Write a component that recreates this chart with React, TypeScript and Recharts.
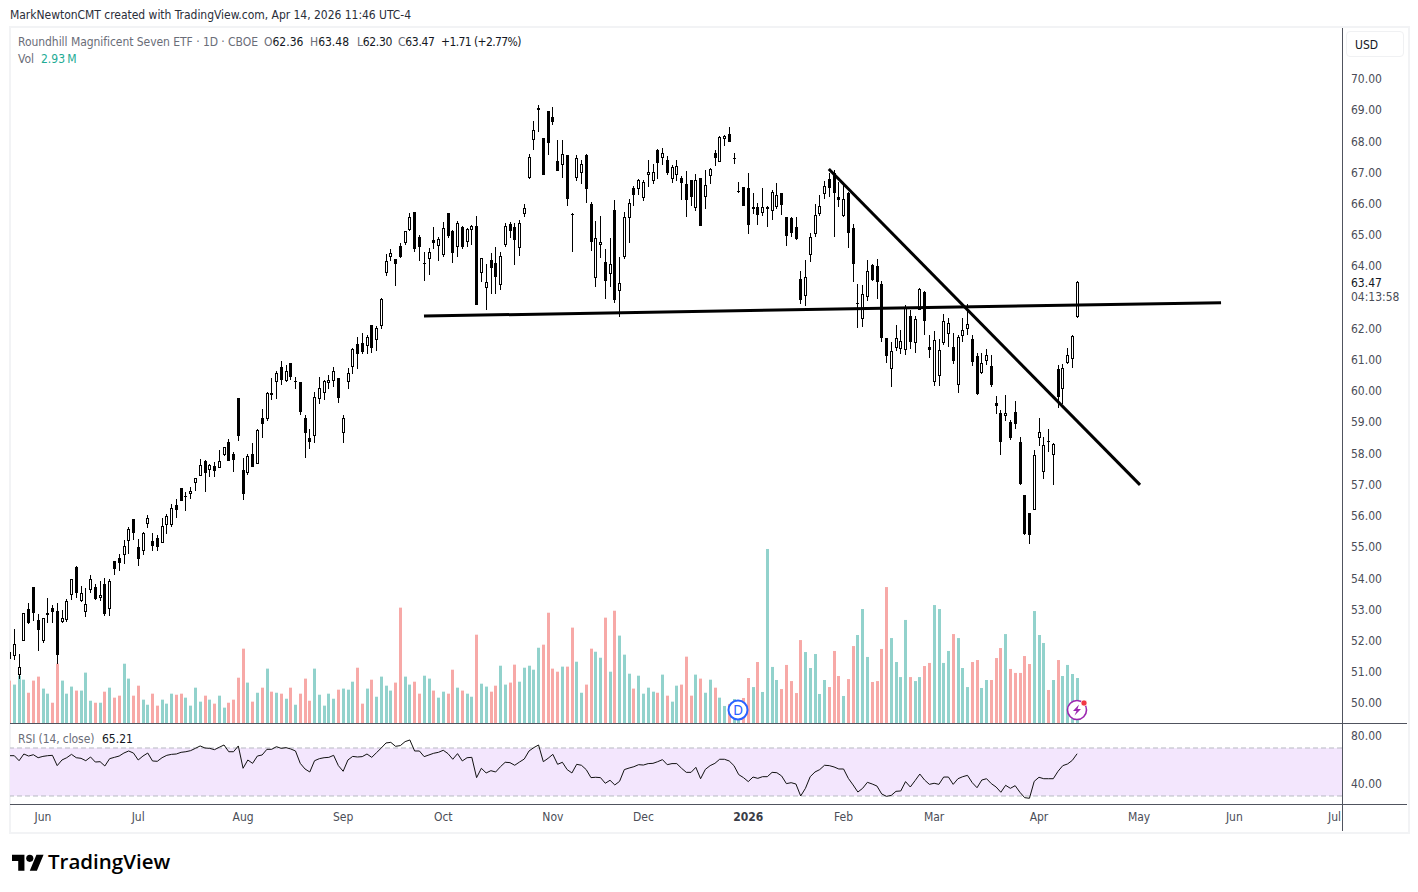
import React from "react";
import { ComposedChart, Bar, Line, XAxis, YAxis, ReferenceLine, ReferenceArea } from "recharts";

const FONT = "'DejaVu Sans Condensed', 'DejaVu Sans', sans-serif";

const opens = [
51.60,51.45,50.84,51.97,52.98,53.69,52.63,51.97,52.77,53.01,
52.92,52.54,52.63,53.44,54.33,53.22,52.86,53.60,53.69,53.34,
53.78,52.96,54.52,54.61,54.71,55.17,55.86,54.97,54.84,55.70,
55.16,55.26,55.10,55.67,55.67,56.31,56.86,56.60,56.67,57.02,
57.24,57.72,57.44,57.56,57.51,57.92,58.33,57.95,59.74,57.44,
57.34,57.95,57.63,59.10,59.07,59.88,60.26,60.74,60.29,60.87,
60.29,60.26,59.10,58.46,58.53,59.71,59.90,60.20,60.29,60.38,
58.62,60.26,60.74,61.47,61.51,61.41,62.08,61.60,62.05,63.75,
64.26,64.20,64.62,64.71,65.13,65.71,64.90,64.07,64.20,64.81,
64.62,64.33,65.67,65.10,64.58,65.22,64.74,65.13,65.26,63.76,
63.28,64.17,64.07,63.38,64.65,65.32,65.22,64.55,65.64,66.79,
68.01,69.04,68.08,68.94,68.75,67.34,67.21,67.53,65.64,66.79,
66.95,67.53,65.96,63.59,64.65,64.10,63.72,65.77,63.17,64.26,
65.51,66.47,66.44,66.15,66.89,66.70,67.69,67.44,67.37,66.76,
66.89,66.79,66.60,66.73,65.83,66.79,66.18,66.86,67.60,67.31,
68.04,68.20,67.44,66.37,66.50,66.47,65.85,65.87,65.67,65.84,
65.74,65.87,66.31,65.54,65.51,65.22,63.56,63.01,64.33,65.00,
65.64,66.28,66.76,66.95,66.19,65.58,66.31,65.19,62.79,62.27,
62.98,64.00,63.97,63.40,61.66,60.67,61.34,61.31,61.28,62.37,
61.50,62.56,63.14,61.38,60.25,60.45,61.50,61.79,61.38,60.16,
61.73,61.95,61.63,61.09,60.54,60.93,60.77,59.58,59.26,59.17,
58.97,59.29,58.33,56.63,56.06,56.15,58.46,57.37,58.37,57.92,
60.67,60.03,60.86,60.99,62.36,
];

const closes = [
51.39,51.85,51.11,52.87,52.53,52.86,52.31,52.71,52.84,52.88,
51.51,52.68,53.24,53.96,53.49,53.48,53.13,53.96,53.30,53.43,
52.82,53.87,54.26,54.45,54.99,55.54,55.42,54.58,55.42,55.90,
55.00,54.97,55.64,55.96,56.22,56.15,56.44,56.57,56.76,57.17,
57.60,57.34,57.60,57.40,57.72,58.17,57.72,57.76,58.53,56.67,
57.88,57.53,58.72,58.91,59.90,59.90,60.55,60.32,60.60,60.42,
60.26,59.30,58.62,58.33,59.78,60.06,60.29,60.31,60.61,59.74,
59.10,60.55,61.31,61.15,61.22,61.70,61.35,61.99,62.92,64.13,
64.39,64.04,64.26,65.10,65.55,64.52,64.58,64.05,64.42,64.71,
64.84,65.19,64.94,64.39,65.35,64.58,65.16,65.26,62.72,64.23,
63.46,63.91,63.62,64.30,65.26,65.10,64.81,65.35,65.83,67.47,
68.33,68.97,66.89,67.92,68.59,67.02,67.56,66.12,65.63,67.44,
67.24,66.44,64.74,64.87,64.74,63.49,64.04,62.88,63.43,65.54,
65.99,66.25,66.73,66.66,66.99,66.99,67.28,67.60,66.95,67.15,
67.18,66.64,66.09,66.18,66.73,65.26,66.57,67.08,67.44,68.11,
68.14,67.95,67.41,66.35,65.90,65.29,65.80,65.61,65.87,65.87,
66.34,66.25,65.93,64.93,65.03,64.84,62.88,63.62,64.90,65.61,
65.90,66.54,66.47,66.31,66.09,66.12,65.03,64.04,62.77,63.08,
63.81,63.52,63.46,61.66,61.09,61.25,61.66,61.57,62.63,61.54,
62.27,63.24,62.21,61.28,61.60,61.28,62.21,62.15,60.93,61.70,
61.92,62.11,60.90,59.87,60.86,61.12,60.16,59.49,58.33,59.26,
58.46,58.91,56.99,55.38,55.35,57.92,58.65,58.24,58.35,58.27,
59.78,60.70,61.12,61.73,63.47,
];

const highs = [
52.57,52.34,51.54,52.87,53.17,53.69,52.82,52.71,53.32,53.11,
53.17,52.95,53.30,53.96,54.36,53.72,53.64,54.06,53.80,53.88,
53.97,53.96,54.52,54.74,55.19,55.61,55.86,55.22,55.45,55.99,
55.42,55.35,55.90,56.03,56.35,56.51,56.86,56.73,56.89,57.17,
57.79,57.76,57.63,57.69,58.08,58.17,58.43,58.01,59.74,57.82,
57.95,58.30,58.75,59.39,59.94,60.38,60.61,60.93,60.80,60.87,
60.42,60.26,59.20,58.75,59.94,60.42,60.32,60.48,60.74,60.38,
59.20,60.71,61.35,61.70,61.83,61.76,62.08,62.05,62.95,64.36,
64.52,64.20,64.71,65.10,65.67,65.71,64.97,64.42,64.55,65.22,
64.90,65.38,65.67,65.13,65.42,65.26,65.19,65.29,65.58,64.23,
64.04,64.39,64.58,64.42,65.35,65.38,65.35,65.45,65.96,67.56,
68.62,69.13,68.08,68.94,69.07,68.01,68.01,67.53,65.67,67.53,
67.37,67.56,66.02,65.42,65.58,64.52,64.87,66.09,64.26,65.71,
66.12,66.54,66.76,66.73,67.37,67.24,67.72,67.76,67.50,67.21,
67.37,66.86,67.02,66.73,66.92,66.79,67.05,67.11,67.69,68.14,
68.17,68.43,67.60,66.66,66.50,66.95,66.31,65.99,66.47,65.90,
66.41,66.63,66.31,65.54,65.54,65.54,63.81,64.16,65.03,65.96,
66.25,66.70,66.95,67.05,66.67,66.60,66.35,65.32,63.40,63.36,
64.16,64.04,64.20,63.49,61.66,61.54,62.08,61.92,62.72,62.56,
62.37,63.27,63.17,61.76,61.89,61.63,62.43,62.31,61.83,61.76,
62.31,62.75,61.76,61.18,61.18,61.31,61.12,59.81,59.36,59.84,
59.04,59.65,58.49,56.63,56.06,58.08,59.10,58.49,58.75,58.30,
60.80,60.83,61.35,61.76,63.48,
];

const lows = [
51.19,51.35,50.74,51.97,52.50,52.61,51.63,51.90,52.54,52.54,
51.22,52.54,52.56,53.27,53.33,53.22,52.72,53.49,53.27,53.24,
52.76,52.76,54.07,54.20,54.42,54.74,55.19,54.36,54.71,55.58,
54.84,54.84,55.10,55.38,55.61,55.90,56.44,56.12,56.51,56.76,
57.24,56.73,57.21,57.21,57.51,57.88,57.72,57.37,58.36,56.47,
57.28,57.53,57.63,58.46,59.01,59.68,59.71,60.16,60.26,60.32,
60.03,59.20,57.82,58.11,58.30,59.55,59.68,60.03,60.10,59.58,
58.30,60.03,60.51,60.67,61.15,61.15,61.19,61.25,61.96,63.65,
64.13,63.33,64.23,64.65,65.10,64.42,64.13,63.49,63.69,64.52,
64.13,64.26,64.87,64.07,64.26,64.52,64.58,64.65,62.72,63.46,
62.56,63.08,63.08,63.21,64.58,64.87,64.00,64.30,65.54,66.76,
67.69,68.27,66.89,67.53,68.49,67.02,66.79,65.90,64.42,66.70,
66.60,65.99,64.45,63.30,64.23,62.92,63.30,62.79,62.34,64.20,
64.71,65.90,66.25,66.06,66.50,66.60,66.76,67.21,66.89,66.64,
66.70,66.09,65.54,65.90,65.73,65.26,65.80,66.60,67.18,67.31,
67.82,67.95,67.24,66.31,65.90,65.00,65.64,65.29,65.58,65.22,
65.45,65.80,65.61,64.62,64.90,64.81,62.75,62.69,64.10,64.90,
65.58,66.12,66.19,64.90,65.87,65.54,64.55,63.46,61.99,62.02,
62.85,63.49,62.91,61.54,60.86,60.09,61.25,61.15,61.12,61.31,
61.18,62.56,61.76,61.02,60.13,60.13,61.44,61.38,60.83,59.90,
61.54,61.76,60.77,59.84,60.51,60.80,60.09,59.23,57.92,59.01,
58.40,58.75,56.95,55.35,55.06,56.15,58.20,57.15,58.01,56.95,
59.42,59.55,60.83,60.70,62.30,
];

const volumes = [
2.76,2.50,3.08,2.82,1.97,2.76,3.02,2.24,1.91,1.32,
3.86,2.76,1.91,2.37,2.11,2.11,3.28,1.45,1.32,1.32,
2.04,2.30,1.65,1.78,3.86,2.89,1.78,2.43,1.52,1.19,
1.91,1.13,1.52,1.26,1.91,1.84,1.91,1.65,1.13,2.30,
1.39,1.78,1.52,1.26,1.78,1.00,1.32,1.52,2.95,4.84,
2.63,1.39,1.97,2.30,3.54,2.04,1.97,1.91,1.58,2.30,
1.19,1.91,2.89,1.45,3.54,1.84,1.13,1.91,1.58,2.17,
2.24,2.17,2.69,3.60,1.26,2.24,2.82,1.71,3.02,2.43,
2.11,2.63,7.51,3.02,2.50,2.69,1.91,3.08,2.89,2.11,
1.65,2.04,1.91,3.47,2.30,2.11,1.91,1.71,5.75,2.56,
2.37,2.04,2.43,3.73,2.50,2.63,3.80,2.69,3.60,3.73,
3.47,4.90,5.10,7.18,3.54,3.34,3.67,3.67,6.21,3.99,
1.97,2.50,4.84,4.64,4.25,6.86,3.34,7.31,5.69,4.45,
3.21,2.24,3.08,1.91,2.30,2.04,1.97,3.15,1.78,1.39,
2.43,2.50,4.32,1.78,3.15,2.89,1.97,2.82,2.30,1.65,
1.11,1.24,1.56,0.63,1.63,2.93,2.34,3.97,2.02,11.33,
3.65,2.80,2.21,3.78,2.73,1.95,5.40,4.62,3.58,4.49,
1.89,2.80,2.34,4.69,3.06,1.76,2.86,5.01,5.73,7.42,
4.30,2.67,2.73,4.82,8.85,5.53,3.97,2.99,6.71,2.99,
2.73,2.99,3.71,3.91,7.68,7.42,3.91,4.69,5.79,5.53,
3.58,2.34,3.97,4.10,2.28,2.80,2.80,4.23,4.88,5.79,
3.52,3.26,3.26,4.36,3.84,7.29,5.73,5.21,2.15,2.80,
4.10,3.06,3.78,3.19,2.93,
];

const volumeRising = [
0,1,1,1,0,0,0,1,1,0,
0,1,1,1,0,1,1,1,0,1,
0,1,0,0,1,1,0,0,1,1,
0,0,1,1,1,0,0,1,1,1,
1,0,1,0,1,1,0,0,0,0,
1,0,1,0,1,0,1,0,1,0,
1,0,0,0,1,1,1,1,1,0,
1,1,1,0,0,1,0,1,1,1,
1,0,0,1,1,0,0,1,1,0,
1,1,0,0,1,0,1,1,0,1,
1,0,0,1,1,0,0,1,1,1,
1,1,0,0,0,0,1,0,0,1,
1,0,0,1,1,0,1,0,1,1,
1,0,1,1,1,1,0,1,0,1,
1,0,0,0,1,0,1,1,0,1,
1,0,1,1,0,0,1,0,1,1,
1,1,0,0,0,0,0,1,1,1,
1,1,0,0,0,1,0,0,1,1,
1,0,0,0,0,1,1,1,1,0,
1,1,0,0,1,1,1,1,0,1,
1,1,0,0,1,1,0,0,0,1,
0,0,0,0,0,1,1,1,0,1,
0,1,1,1,1,
];

const rsiValues = [
63.6,63.6,59.4,65.0,63.3,64.4,61.9,63.0,63.6,63.9,
55.3,60.0,61.9,64.7,61.9,61.4,59.4,62.5,58.3,58.6,
55.0,61.1,62.2,63.3,65.8,67.5,65.8,60.0,63.3,65.8,
59.2,58.9,61.9,63.9,64.7,65.0,66.4,66.9,67.8,69.7,
71.7,70.0,69.7,68.6,70.6,72.5,66.9,66.9,71.7,53.1,
60.0,57.2,63.3,64.2,68.9,68.9,71.1,69.7,70.3,69.2,
67.5,57.2,52.5,50.0,59.4,61.1,61.9,62.2,63.9,55.3,
50.6,60.0,63.0,62.5,62.8,65.0,62.2,66.1,70.0,74.2,
74.7,71.4,72.0,75.3,76.7,67.5,67.5,62.8,64.2,65.6,
66.4,68.1,65.3,60.6,65.3,59.2,61.9,62.2,45.3,53.1,
49.2,51.1,50.0,54.4,58.1,57.8,55.6,58.3,60.8,67.5,
70.3,72.5,58.6,61.4,64.7,56.4,58.1,52.0,49.2,56.4,
55.6,52.0,45.3,45.6,45.3,40.6,43.1,39.2,42.2,52.0,
53.3,54.4,56.1,55.8,57.0,57.2,58.6,60.3,56.1,57.0,
57.0,53.1,49.7,49.7,53.9,44.4,52.2,55.3,57.2,60.6,
60.6,59.2,55.3,47.8,45.3,42.0,45.8,44.7,46.1,46.1,
49.7,49.4,46.7,40.3,41.1,40.0,30.0,36.4,46.1,50.0,
52.0,55.6,55.3,54.2,52.5,52.5,44.7,39.2,33.3,36.4,
41.4,40.0,38.3,31.7,29.7,30.5,33.9,34.2,42.0,37.5,
42.8,48.3,43.3,39.7,40.6,39.7,45.8,45.8,39.7,44.4,
46.1,47.2,41.1,36.9,43.3,44.4,40.3,37.5,33.1,38.9,
36.4,38.6,33.1,28.6,28.1,42.2,45.6,44.4,44.4,44.4,
50.6,55.3,56.7,59.7,65.21,
];

const priceTicks = [50,51,52,53,54,55,56,57,58,59,60,61,62,64,65,66,67,68,69,70];
const rsiTicks = [40, 80];
const timeTickBars = [6,26,48,69,90,113,132,154,174,193,215,236,256,277];
const timeTickLabels = ["Jun","Jul","Aug","Sep","Oct","Nov","Dec","2026","Feb","Mar","Apr","May","Jun","Jul"];

const supportLine = [{ x: 85.96, y: 62.37 }, { x: 253.2, y: 62.80 }];
const downTrendLine = [{ x: 170.9, y: 67.08 }, { x: 236.2, y: 56.96 }];

const rows = opens.map((open, k) => ({
  bar: k - 1,
  open,
  close: closes[k],
  high: highs[k],
  low: lows[k],
  range: [lows[k], highs[k]],
  volume: volumes[k],
  rising: volumeRising[k],
  rsi: rsiValues[k],
}));

const BAR_DOMAIN: [number, number] = [-0.902, 278.58];
const PRICE_DOMAIN: [number, number] = [49.33, 71.6];
const VOLUME_DOMAIN: [number, number] = [0, 45.25];
const RSI_DOMAIN: [number, number] = [23.33, 90];

function Candle(props: any) {
  const { x, y, width, height, payload } = props;
  if (!payload) return null;
  const { open, close, high, low } = payload;
  const span = high - low || 1;
  const at = (v: number) => y + ((high - v) / span) * height;
  const cx = Math.round(x + width / 2 - 0.5) + 0.5;
  const top = at(Math.max(open, close));
  const bottom = at(Math.min(open, close));
  const hollow = close >= open;
  return (
    <g>
      <line x1={cx} x2={cx} y1={y} y2={y + height} stroke="#000" strokeWidth={1} shapeRendering="crispEdges" />
      {hollow ? (
        <rect x={cx - 1} y={Math.round(top) + 0.5} width={2} height={Math.max(Math.round(bottom - top) - 1, 1)} fill="#fff" stroke="#000" strokeWidth={1} shapeRendering="crispEdges" />
      ) : (
        <rect x={cx - 1.5} y={Math.round(top)} width={3} height={Math.max(Math.round(bottom - top), 1)} fill="#000" shapeRendering="crispEdges" />
      )}
    </g>
  );
}

function VolumeBar(props: any) {
  const { x, y, width, height, payload } = props;
  if (!payload) return null;
  return (
    <rect
      x={Math.round(x + width / 2 - 1.5)}
      y={y}
      width={3}
      height={height}
      fill={payload.rising ? "#92d2cc" : "#f7a9a7"}
    />
  );
}

function TimeTick(props: any) {
  const { x, payload } = props;
  const label = timeTickLabels[timeTickBars.indexOf(payload.value)];
  const strong = label === "2026";
  return (
    <text x={x} y={93} dy="0.35em" textAnchor="middle" fontFamily={FONT} fontSize={12} fontWeight={strong ? 700 : 400} fill={strong ? "#3a3d47" : "#4a4d57"}>
      {label}
    </text>
  );
}

function Txt({ x, y, color = "#131722", size = 12, weight = 400, family = FONT, spacing = 0, children }: any) {
  return (
    <div style={{ position: "absolute", left: x, top: y, transform: "translateY(-50%)", color, fontSize: size, fontWeight: weight, fontFamily: family, letterSpacing: spacing, whiteSpace: "nowrap", lineHeight: 1 }}>
      {children}
    </div>
  );
}

export default function App() {
  return (
    <div style={{ position: "absolute", left: 0, top: 0, width: 1418, height: 892, background: "#fff", overflow: "hidden" }}>
      <div style={{ position: "absolute", left: 9, top: 26, width: 1397, height: 804, border: "2px solid #f2f3f5", boxSizing: "content-box" }} />

      <div style={{ position: "absolute", left: 10, top: 28 }}>
        <ComposedChart width={1398} height={695} data={rows} margin={{ top: 0, right: 0, bottom: 0, left: 0 }}>
          <XAxis xAxisId="price" dataKey="bar" type="number" domain={BAR_DOMAIN} allowDataOverflow hide height={0} />
          <XAxis xAxisId="vol" dataKey="bar" type="number" domain={BAR_DOMAIN} allowDataOverflow hide height={0} />
          <YAxis yAxisId="price" orientation="right" width={66} domain={PRICE_DOMAIN} ticks={priceTicks} interval={0} tickFormatter={(v: number) => v.toFixed(2)} axisLine={false} tickLine={false} tickMargin={3} tick={{ fontFamily: FONT, fontSize: 12, fill: "#4a4d57", dy: 1 }} allowDataOverflow />
          <YAxis yAxisId="vol" orientation="left" hide width={0} domain={VOLUME_DOMAIN} allowDataOverflow />
          <Bar xAxisId="vol" yAxisId="vol" dataKey="volume" barSize={3} isAnimationActive={false} shape={<VolumeBar />} />
          <ReferenceLine xAxisId="price" yAxisId="price" segment={supportLine} stroke="#000" strokeWidth={3} />
          <ReferenceLine xAxisId="price" yAxisId="price" segment={downTrendLine} stroke="#000" strokeWidth={3} />
          <Bar xAxisId="price" yAxisId="price" dataKey="range" barSize={3} isAnimationActive={false} shape={<Candle />} />
        </ComposedChart>
      </div>

      <div style={{ position: "absolute", left: 10, top: 724 }}>
        <ComposedChart width={1398} height={108} data={rows} margin={{ top: 0, right: 0, bottom: 0, left: 0 }}>
          <XAxis dataKey="bar" type="number" domain={BAR_DOMAIN} allowDataOverflow ticks={timeTickBars} interval={0} height={28} axisLine={false} tickLine={false} tick={<TimeTick />} />
          <YAxis orientation="right" width={66} domain={RSI_DOMAIN} ticks={rsiTicks} interval={0} tickFormatter={(v: number) => v.toFixed(2)} axisLine={false} tickLine={false} tickMargin={3} tick={{ fontFamily: FONT, fontSize: 12, fill: "#4a4d57" }} allowDataOverflow />
          <ReferenceArea y1={30} y2={70} fill="#f3e6fd" fillOpacity={1} stroke="none" />
          <ReferenceLine y={70} stroke="#b8bac2" strokeDasharray="5 3" />
          <ReferenceLine y={30} stroke="#b8bac2" strokeDasharray="5 3" />
          <Line dataKey="rsi" type="linear" stroke="#111" strokeWidth={1} dot={false} activeDot={false} isAnimationActive={false} />
        </ComposedChart>
      </div>

      <div style={{ position: "absolute", left: 10, top: 723, width: 1397, height: 1, background: "#50535e" }} />
      <div style={{ position: "absolute", left: 10, top: 804, width: 1397, height: 1, background: "#50535e" }} />
      <div style={{ position: "absolute", left: 1342, top: 28, width: 1, height: 803, background: "#50535e" }} />

      <Txt x={10} y={15} color="#2a2e39" spacing={-0.03}>MarkNewtonCMT created with TradingView.com, Apr 14, 2026 11:46 UTC-4</Txt>
      <Txt x={18} y={42} color="#6a6d78" spacing={-0.05}>Roundhill Magnificent Seven ETF · 1D · CBOE</Txt>
      <Txt x={264} y={42} color="#6a6d78">O<span style={{ color: "#131722" }}>62.36</span></Txt>
      <Txt x={310} y={42} color="#6a6d78">H<span style={{ color: "#131722" }}>63.48</span></Txt>
      <Txt x={357} y={42} color="#6a6d78" spacing={-0.3}>L<span style={{ color: "#131722" }}>62.30</span></Txt>
      <Txt x={398} y={42} color="#6a6d78" spacing={-0.3}>C<span style={{ color: "#131722" }}>63.47</span></Txt>
      <Txt x={441} y={42} spacing={-0.6}>+1.71 (+2.77%)</Txt>
      <Txt x={18} y={59} color="#6a6d78">Vol</Txt>
      <Txt x={41} y={59} color="#22ab94">2.93{"\u2009"}M</Txt>
      <Txt x={18} y={739} color="#6a6d78" spacing={-0.1}>RSI (14, close)</Txt>
      <Txt x={102} y={739}>65.21</Txt>

      <div style={{ position: "absolute", left: 1346, top: 31, width: 58, height: 26, border: "1px solid #f0f1f3", borderRadius: 4, boxSizing: "border-box" }} />
      <Txt x={1355} y={45} color="#131722">USD</Txt>
      <Txt x={1351} y={283} color="#131722">63.47</Txt>
      <Txt x={1351} y={297} color="#4a4d57">04:13:58</Txt>

      <svg style={{ position: "absolute", left: 726, top: 698 }} width={24} height={24} viewBox="0 0 24 24">
        <circle cx={12} cy={12} r={9.5} fill="#fff" stroke="#2962ff" strokeWidth={2} />
        <text x={12} y={17} textAnchor="middle" fontFamily={FONT} fontSize={14} fill="#2962ff">D</text>
      </svg>
      <svg style={{ position: "absolute", left: 1065, top: 698 }} width={24} height={24} viewBox="0 0 24 24">
        <circle cx={12} cy={12} r={9.5} fill="#fff" stroke="#9c27b0" strokeWidth={1.6} />
        <path d="M14 6.5 L8 13 H11.5 L9.5 17.5 L16 11 H12.5 Z" fill="#9c27b0" />
        <circle cx={19} cy={5} r={3} fill="#f23645" stroke="#fff" strokeWidth={0.6} />
      </svg>

      <svg style={{ position: "absolute", left: 12, top: 851 }} width={32} height={20} viewBox="0 0 36 22">
        <path d="M14 22H7V11H0V4h14v18zM28 22h-8l7.5-18h8L28 22z" fill="#000" />
        <circle cx={20} cy={8} r={4} fill="#000" />
      </svg>
      <Txt x={48} y={861} color="#000" size={20.5} weight={600} family="'Open Sans', sans-serif">TradingView</Txt>
    </div>
  );
}
